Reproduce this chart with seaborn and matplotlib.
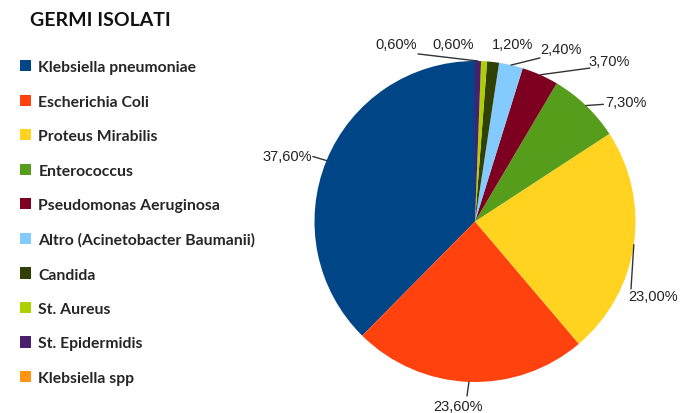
import numpy as np
import matplotlib
matplotlib.use("Agg")
import matplotlib.pyplot as plt
from matplotlib.patches import Patch
import seaborn as sns

sns.set_theme(style="white")
plt.rcParams['font.family'] = ['Liberation Sans', 'DejaVu Sans']

germi = ['Klebsiella pneumoniae', 'Escherichia Coli', 'Proteus Mirabilis',
         'Enterococcus', 'Pseudomonas Aeruginosa',
         'Altro (Acinetobacter Baumanii)', 'Candida', 'St. Aureus',
         'St. Epidermidis', 'Klebsiella spp']
percentuali = [37.6, 23.6, 23.0, 7.3, 3.7, 2.4, 1.2, 0.6, 0.6, 0.0]
colori = sns.color_palette(['#004586', '#ff420e', '#ffd320', '#579d1c',
                            '#7e0021', '#83caff', '#314004', '#aecf00',
                            '#4b1f6f', '#ff950e'])

# label placement (pie radius units): text anchor, alignment, leader end
label_pos = [(-1.016, 0.408, 'right', (-1.01, 0.405)),
             (-0.106, -1.15, 'center', (-0.05, -1.087)),
             (0.953, -0.464, 'left', (0.972, -0.42)),
             (0.81, 0.745, 'left', (0.80, 0.73)),
             (0.704, 1.0, 'left', (0.716, 0.956)),
             (0.405, 1.075, 'left', (0.405, 1.019)),
             (0.106, 1.106, 'left', None),
             (-0.268, 1.106, 'left', None),
             (-0.623, 1.106, 'left', (-0.355, 1.044)),
             None]

W, H = 681, 414
fig = plt.figure(figsize=(W / 100, H / 100), dpi=100)
cx, cy, r = 475, 222.5, 160.5
ax = fig.add_axes([(cx - r) / W, (H - cy - r) / H, 2 * r / W, 2 * r / H])

wedges, _ = ax.pie(percentuali, colors=colori, startangle=90,
                   counterclock=True, radius=1.0,
                   wedgeprops={'linewidth': 0, 'edgecolor': 'none'})
ax.set_xlim(-1, 1)
ax.set_ylim(-1, 1)
ax.set_aspect('equal')
ax.axis('off')

for w, val, lp in zip(wedges, percentuali, label_pos):
    if lp is None or val == 0:
        continue
    tx, ty, ha, lend = lp
    mid = np.deg2rad((w.theta1 + w.theta2) / 2)
    ex, ey = np.cos(mid), np.sin(mid)
    if lend is not None:
        ax.plot([ex, lend[0]], [ey, lend[1]], color='#333333', lw=1,
                clip_on=False)
    txt = f"{val:.2f}%".replace('.', ',')
    ax.text(tx, ty, txt, ha=ha, va='center', fontsize=10.5,
            color='#222222', clip_on=False)

fig.text(30 / W, 1 - 20 / H, 'GERMI ISOLATI', ha='left', va='center',
         fontsize=14, fontweight='bold', family=['Lato', 'DejaVu Sans'],
         color='#111111')

handles = [Patch(facecolor=c, edgecolor='none') for c in colori]
fig.legend(handles, germi, loc='upper left',
           bbox_to_anchor=(6 / W, 1 - 47 / H), frameon=False,
           handlelength=0.72, handleheight=0.72, handletextpad=0.45,
           labelspacing=1.3,
           prop={'family': 'Lato', 'weight': 'bold', 'size': 11.3})

fig.savefig('out.png', dpi=100)
